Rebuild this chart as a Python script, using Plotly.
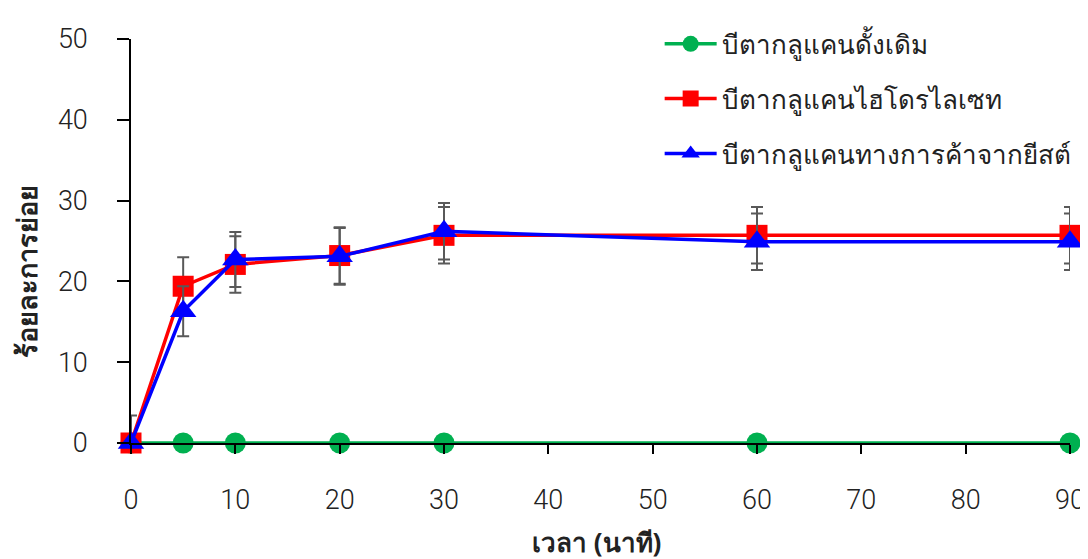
import plotly.graph_objects as go

time_min = [0, 5, 10, 20, 30, 60, 90]

names = ["บีตากลูแคนดั้งเดิม", "บีตากลูแคนไฮโดรไลเซท", "บีตากลูแคนทางการค้าจากยีสต์"]

traditional = [0, 0, 0, 0, 0, 0, 0]
traditional_err = [0, 0, 0, 0, 0, 0, 0]

hydrolysate = [0, 19.4, 22.1, 23.2, 25.7, 25.7, 25.7]
hydrolysate_err = [3.4, 3.6, 3.5, 3.5, 3.5, 3.5, 3.5]

commercial = [0, 16.3, 22.7, 23.1, 26.2, 24.9, 24.9]
commercial_err = [0, 3.1, 3.4, 3.5, 3.5, 3.5, 3.5]

x_title = "เวลา (นาที)"
y_title = "ร้อยละการย่อย"

colors = ["#00B050", "#FF0000", "#0000FF"]
symbols = ["circle", "square", "triangle-up"]
series = [traditional, hydrolysate, commercial]
errors = [traditional_err, hydrolysate_err, commercial_err]

fig = go.Figure()
for i in range(3):
    fig.add_trace(go.Scatter(
        x=time_min, y=series[i], name=names[i], mode="lines+markers",
        line=dict(color=colors[i], width=3.5),
        marker=dict(symbol=symbols[i], size=21 if i != 2 else 23, color=colors[i]),
        error_y=dict(type="data", array=errors[i], visible=True, color="#595959",
                     thickness=2, width=6),
        cliponaxis=False, legendgroup=str(i),
    ))

tick_font = dict(family="Roboto, sans-serif", size=27, weight=300, color="#222222")

fig.update_layout(
    width=1088, height=559,
    margin=dict(l=123, r=26, t=28, b=124),
    paper_bgcolor="white", plot_bgcolor="white",
    font=dict(family="Noto Sans, sans-serif", color="#222222"),
    showlegend=True,
    legend=dict(x=0.563, y=1.046, xanchor="left", yanchor="top",
                font=dict(size=26, color="#222222"),
                tracegroupgap=18, itemwidth=52, bgcolor="rgba(0,0,0,0)"),
    xaxis=dict(range=[0, 90], tickvals=[0, 10, 20, 30, 40, 50, 60, 70, 80, 90],
               showline=True, linecolor="black", linewidth=1.5, ticks="outside",
               ticklen=9, tickcolor="black", tickwidth=1.5, showgrid=False, zeroline=False,
               tickfont=tick_font, ticklabelstandoff=23, automargin=False),
    yaxis=dict(range=[0, 50], tickvals=[0, 10, 20, 30, 40, 50],
               showline=True, linecolor="black", linewidth=1.5, ticks="outside",
               ticklen=12, tickcolor="black", tickwidth=1.5, showgrid=False, zeroline=False,
               tickfont=tick_font, ticklabelstandoff=24, automargin=False),
    annotations=[
        dict(text="<b>" + x_title + "</b>", xref="paper", yref="paper", x=0.496, y=-0.246,
             xanchor="center", yanchor="middle", showarrow=False,
             font=dict(size=26, color="#222222")),
        dict(text="<b>" + y_title + "</b>", xref="paper", yref="paper", x=-0.111, y=0.425,
             xanchor="center", yanchor="middle", showarrow=False, textangle=-90,
             font=dict(size=27, color="#222222")),
    ],
)

fig.write_html("out.html")
